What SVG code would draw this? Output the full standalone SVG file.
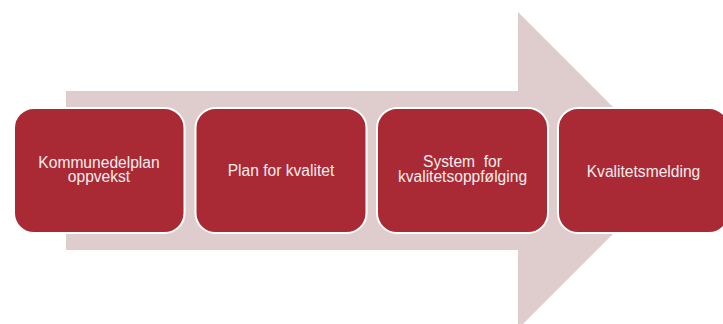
<svg xmlns="http://www.w3.org/2000/svg" width="723" height="324" viewBox="0 0 723 324">
<style>
.box{fill:#A92A34;stroke:#FFFFFF;stroke-width:2}
.lbl{font-family:"Liberation Sans",Arial,sans-serif;font-size:15.6px;fill:#F6ECEE;text-anchor:middle}
</style>
<rect width="723" height="324" fill="#FFFFFF"/>
<g id="connectors">
<path d="M66 91 H518 V12 L676.5 170.5 L518 329 V250 H66 Z" fill="#DFCDCD"/>
</g>
<g id="node1">
<rect class="box" x="14" y="108" width="170.5" height="125" rx="20"/>
<text class="lbl" x="99" y="168">Kommunedelplan</text>
<text class="lbl" x="99" y="181.5">oppvekst</text>
</g>
<g id="node2">
<rect class="box" x="195.5" y="108" width="171" height="125" rx="20"/>
<text class="lbl" x="281" y="176">Plan for kvalitet</text>
</g>
<g id="node3">
<rect class="box" x="377" y="108" width="171" height="125" rx="20"/>
<text class="lbl" x="462.5" y="167" xml:space="preserve">System  for</text>
<text class="lbl" x="462.5" y="181.5">kvalitetsoppfølging</text>
</g>
<g id="node4">
<rect class="box" x="558" y="108" width="171" height="125" rx="20"/>
<text class="lbl" x="643.5" y="176.5">Kvalitetsmelding</text>
</g>
</svg>
